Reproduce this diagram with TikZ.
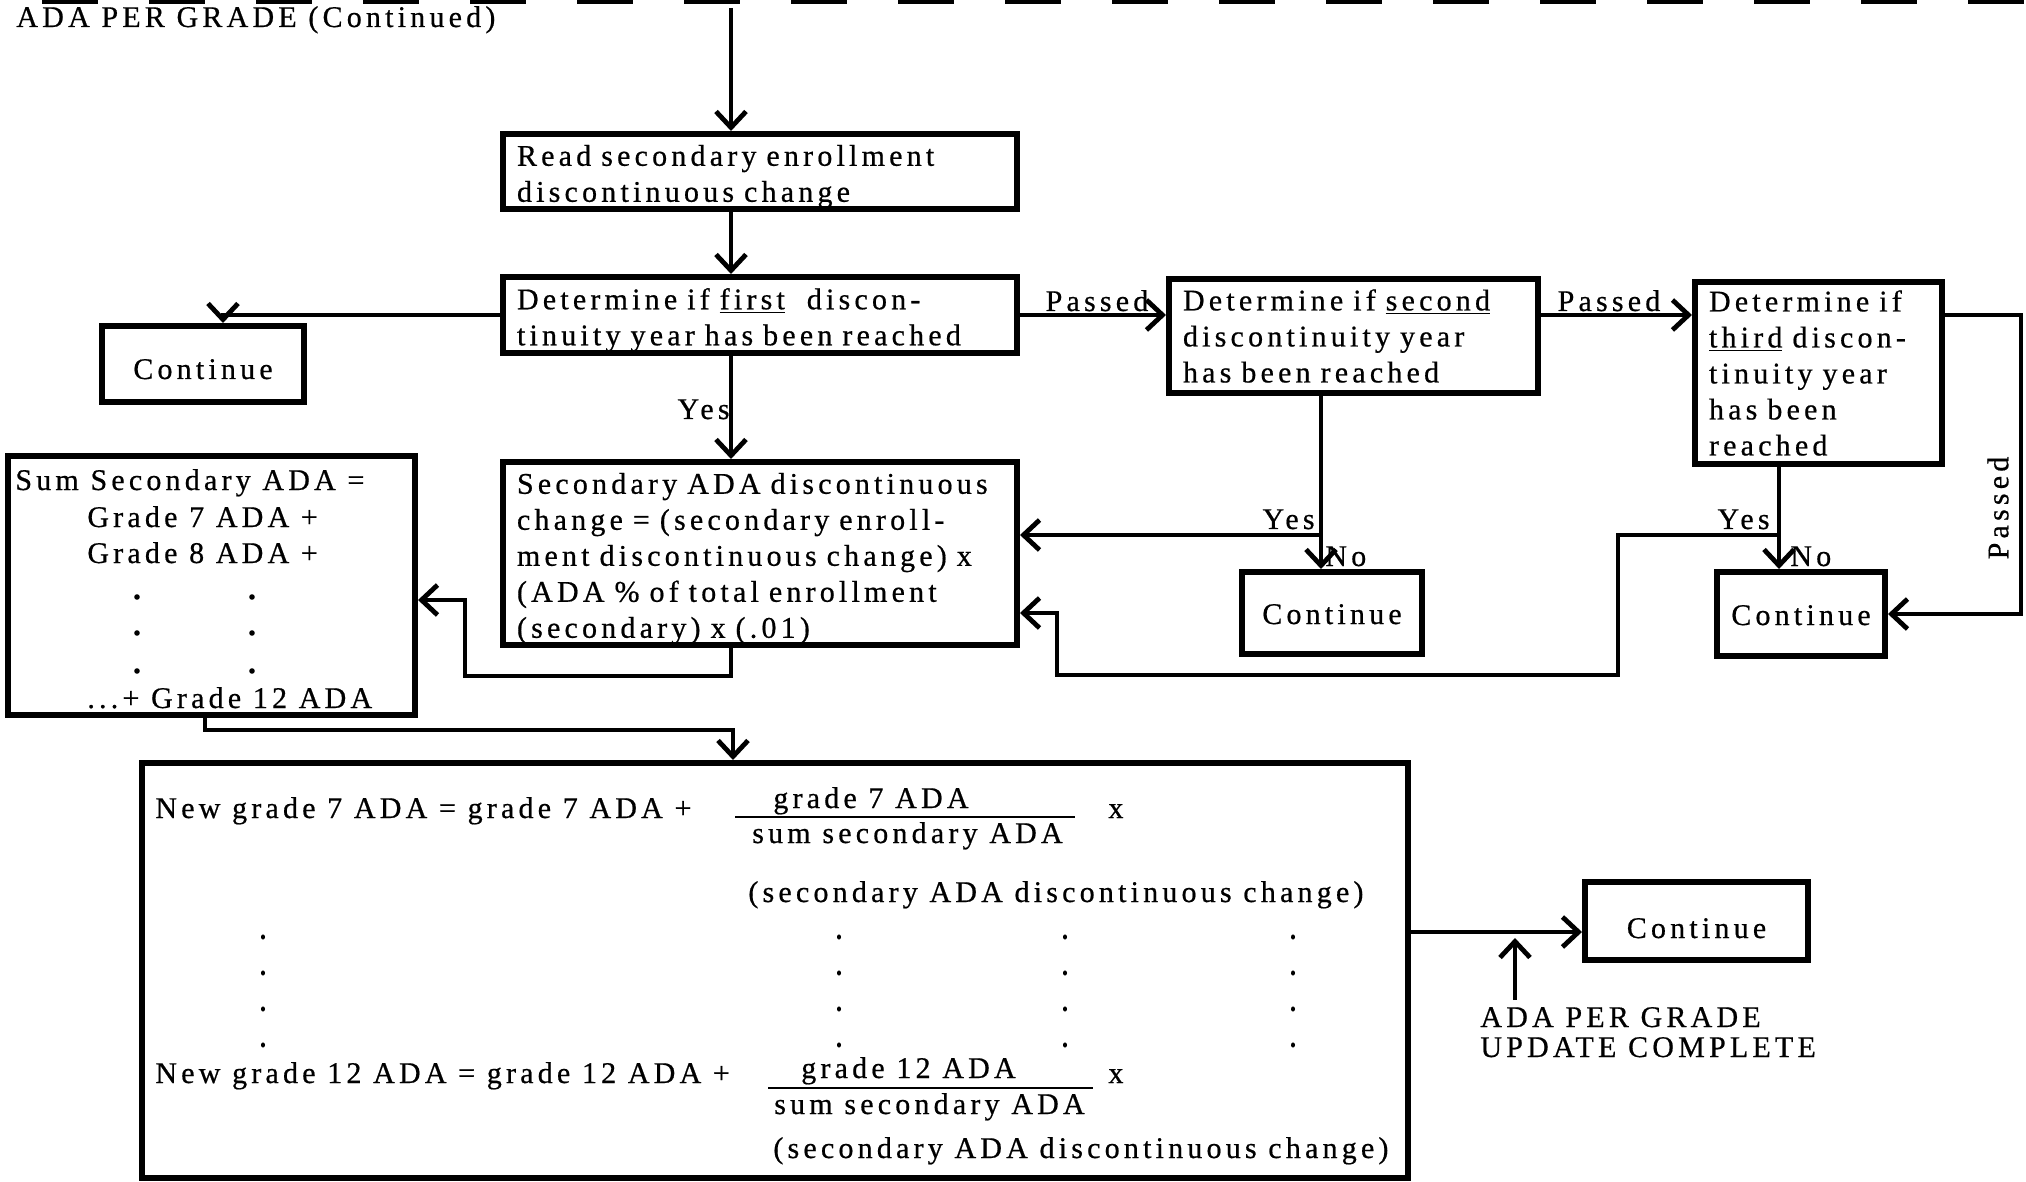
\documentclass[tikz,border=0pt]{standalone}
\usepackage{fontspec}
\setmainfont{Liberation Serif}[LetterSpace=14, FakeBold=0.6]
\usetikzlibrary{arrows.meta,calc}
\newcommand{\flowfont}{\fontsize{15}{18}\selectfont}
% taller first line pushes box text slightly below centre
\newcommand{\toprule}{\rule{0pt}{15.5pt}}
\begin{document}
\begin{tikzpicture}[x=0.5pt,y=-0.5pt,
  line/.style={line width=2.4pt},
  arr/.style={line, -{Straight Barb[length=8pt,width=15pt]}},
  box/.style={draw, line width=3pt, inner xsep=7pt, inner ysep=0pt, font=\flowfont, align=left},
  cbox/.style={draw, line width=3pt, inner sep=0pt, font=\flowfont, align=center},
  frame/.style={draw, line width=3pt, inner sep=0pt},
  lbl/.style={inner sep=0pt, font=\flowfont},
  frac/.style={line width=1.4pt}]
\useasboundingbox (0,0) rectangle (2026,1182);

% torn-off dashed edge of the previous page section
\draw[line width=4.5pt, dash pattern=on 28pt off 25.5pt] (42,0) -- (2026,0);
\node[lbl, anchor=base west] (title) at (16,27) {ADA PER GRADE (Continued)};

% process and decision boxes
\node[box, text width=243pt, minimum height=37.5pt] (read) at (760,171.5)
  {\toprule Read secondary enrollment\\discontinuous change};
\node[box, text width=243pt, minimum height=38pt] (det1) at (760,315)
  {\toprule Determine if \underline{first}\hspace{6pt} discon-\\tinuity year has been reached};
\node[cbox, minimum width=101pt, minimum height=38pt, text height=15pt, text depth=0pt] (cont1) at (203,364) {Continue};
\node[box, text width=170.5pt, minimum height=57pt] (det2) at (1353.5,336)
  {Determine if \underline{second}\\discontinuity year\\has been reached};
\node[box, text width=109.5pt, minimum height=91pt] (det3) at (1818.5,373)
  {Determine if\\\underline{third} discon-\\tinuity year\\has been\\reached};
\node[cbox, minimum width=90pt, minimum height=41pt, text height=11pt, text depth=0pt] (cont2) at (1332,613) {Continue};
\node[cbox, minimum width=84pt, minimum height=42pt, text height=11pt, text depth=0pt] (cont3) at (1801,614) {Continue};
\node[box, text width=243pt, minimum height=91.5pt] (sec) at (760,553.5)
  {\toprule Secondary ADA discontinuous\\change = (secondary enroll-\\ment discontinuous change) x\\(ADA \% of total enrollment\\(secondary) x (.01)};
\node[frame, minimum width=203.5pt, minimum height=129.5pt] (sum) at (211.5,585.5) {};
\node[frame, minimum width=633pt, minimum height=207.5pt] (big) at (775,970.5) {};
\node[cbox, minimum width=111.5pt, minimum height=39pt, text height=17pt, text depth=0pt] (cont4) at (1696.5,921) {Continue};

% sum of secondary ADA
\node[lbl, anchor=base west] (sumA) at (15,490) {Sum Secondary ADA =};
\node[lbl, anchor=base west] (sumB) at (87,527) {Grade 7 ADA +};
\node[lbl, anchor=base west] (sumC) at (87,563) {Grade 8 ADA +};
\node[lbl, anchor=base west] (sumD) at (87,708) {...+ Grade 12 ADA};
\foreach \yy in {597,633,671}
  \foreach \xx in {137,252}
    \fill (\xx,\yy) circle[radius=1.4pt];

% per-grade update formulas
\node[lbl, anchor=base west] (eqA) at (155,818) {New grade 7 ADA = grade 7 ADA +};
\node[lbl, anchor=base] (numA) at (871,808) {grade 7 ADA};
\node[lbl, anchor=base] (denA) at (907.5,843) {sum secondary ADA};
\node[lbl, anchor=base west] (xA) at (1108,818) {x};
\node[lbl, anchor=base west] (chgA) at (748,902) {(secondary ADA discontinuous change)};
\draw[frac] (735,817) -- (1075,817);
\node[lbl, anchor=base west] (eqB) at (155,1083) {New grade 12 ADA = grade 12 ADA +};
\node[lbl, anchor=base] (numB) at (908.5,1078) {grade 12 ADA};
\node[lbl, anchor=base] (denB) at (929.5,1114) {sum secondary ADA};
\node[lbl, anchor=base west] (xB) at (1108,1083) {x};
\node[lbl, anchor=base west] (chgB) at (773,1158) {(secondary ADA discontinuous change)};
\draw[frac] (768,1088) -- (1093,1088);
\foreach \yy in {937,973,1009,1045}
  \foreach \xx in {263,839,1065,1293}
    \fill (\xx,\yy) ellipse[x radius=1pt, y radius=1.3pt];

% labels
\node[lbl, anchor=base] (pass1) at (1097,311) {Passed};
\node[lbl, anchor=base] (pass2) at (1609,311) {Passed};
\node[lbl, rotate=90] (pass3) at (1998,508) {Passed};
\node[lbl, anchor=base east] (yes1) at (730,419) {Yes};
\node[lbl, anchor=base east] (yes2l) at (1315,529) {Yes};
\node[lbl, anchor=base west] (no2) at (1325,566) {No};
\node[lbl, anchor=base east] (yes3l) at (1770,529) {Yes};
\node[lbl, anchor=base west] (no3) at (1790,566) {No};
\node[lbl, anchor=base west] (updA) at (1480,1027) {ADA PER GRADE};
\node[lbl, anchor=base west] (updB) at (1480,1057) {UPDATE COMPLETE};

% connectors
\coordinate (spine) at (731,0);
\coordinate (entry) at (731,8);
\draw[arr] (entry) -- (read.north -| spine);
\draw[arr] (read.south -| spine) -- (det1.north -| spine);
\draw[arr] (det1.west) -| ([xshift=10pt]cont1.north);
\draw[arr] (det1.east) -- (det1.east -| det2.west);
\draw[arr] (det2.east |- det1.east) -- (det3.west |- det1.east);
\coordinate (rloop) at (2021,315);
\draw[arr] (det3.east |- rloop) -- (rloop) |- (cont3.east);
\draw[arr] (det1.south -| spine) -- (sec.north -| spine);

\coordinate (yes2) at (1321,535);
\draw[line] (det2.south -| yes2) -- (yes2);
\draw[arr] (yes2) -- (yes2 -| sec.east);
\draw[arr] (yes2) -- (cont2.north -| yes2);

\coordinate (yes3) at (1779,535);
\coordinate (lp1) at (1618,535);
\coordinate (lp2) at (1057,675);
\coordinate (lp3) at (1057,613);
\draw[line] (det3.south -| yes3) -- (yes3);
\draw[arr] (yes3) -- (cont3.north -| yes3);
\draw[arr] (yes3) -- (lp1) |- (lp2) -- (lp3) -- (lp3 -| sec.east);

\coordinate (s1) at (465,676);
\draw[arr] (sec.south -| spine) |- (s1) |- ($(sum.east)+(0,14.5)$);

\coordinate (j1) at (205,730);
\coordinate (j2) at (733,730);
\draw[arr] (sum.south -| j1) -- (j1) -- (j2) -- (big.north -| j2);

\coordinate (c4in) at ($(cont4.west)+(0,11)$);
\draw[arr] (big.east |- c4in) -- (c4in);
\coordinate (upb) at (1515,1000);
\coordinate (upt) at (1515,938);
\draw[arr] (upb) -- (upt);
\end{tikzpicture}
\end{document}
